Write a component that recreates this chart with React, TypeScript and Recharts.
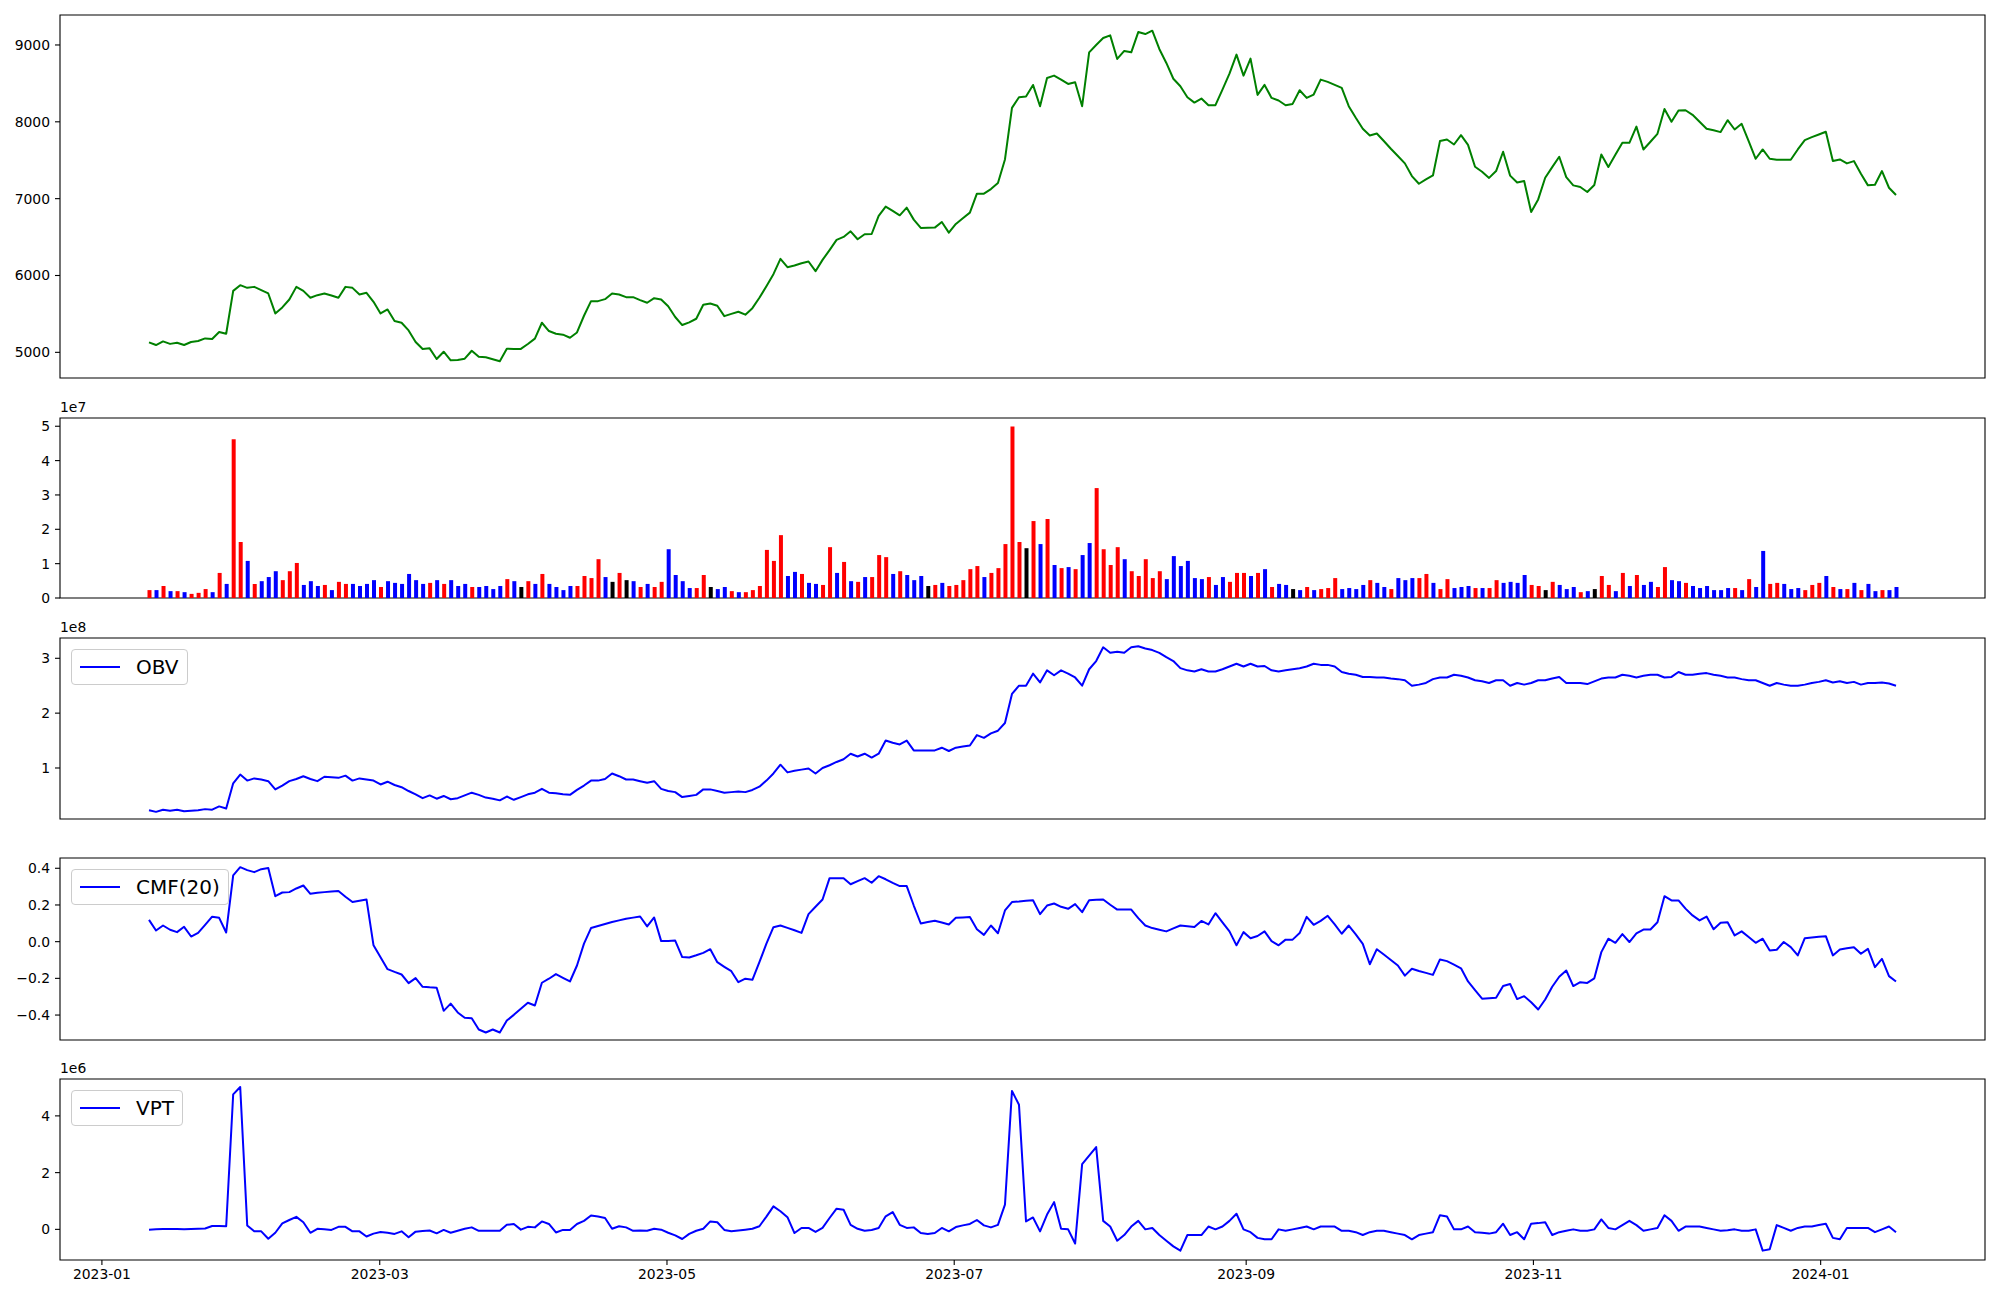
import { ComposedChart, Line, Bar, Cell, XAxis, YAxis, ReferenceArea, Legend } from 'recharts';

// sampling range of the series (points are evenly spaced between these dates)
const startDate = '2023-01-11';
const endDate = '2024-01-17';
const monthTicks = ['2023-01', '2023-03', '2023-05', '2023-07', '2023-09', '2023-11', '2024-01'];

const close = [
  5130, 5095, 5142, 5110, 5125, 5095, 5134, 5147, 5181, 5173,
  5264, 5242, 5800, 5874, 5839, 5852, 5810, 5766, 5506, 5584,
  5688, 5852, 5800, 5710, 5744, 5766, 5740, 5710, 5852, 5839,
  5753, 5775, 5658, 5506, 5558, 5407, 5385, 5285, 5135, 5043,
  5052, 4913, 5008, 4896, 4900, 4917, 5021, 4943, 4935, 4910,
  4883, 5047, 5045, 5045, 5108, 5178, 5385, 5277, 5242, 5230,
  5190, 5259, 5476, 5666, 5666, 5692, 5766, 5753, 5718, 5718,
  5680, 5645, 5705, 5688, 5600, 5460, 5355, 5390, 5437, 5619,
  5636, 5606, 5471, 5500, 5528, 5490, 5575, 5710, 5860, 6017,
  6216, 6108, 6130, 6160, 6182, 6056, 6203, 6330, 6463, 6502,
  6575, 6472, 6536, 6540, 6775, 6896, 6840, 6783, 6883, 6727,
  6619, 6620, 6623, 6697, 6558, 6671, 6745, 6818, 7065, 7065,
  7125, 7203, 7510, 8181, 8320, 8330, 8480, 8203, 8571, 8601,
  8550, 8493, 8515, 8203, 8904, 9000, 9090, 9125, 8818, 8922,
  8904, 9168, 9142, 9186, 8948, 8766, 8560, 8463, 8320, 8250,
  8303, 8216, 8216, 8420, 8627, 8874, 8601, 8822, 8350, 8480,
  8311, 8277, 8216, 8233, 8411, 8311, 8355, 8549, 8520, 8480,
  8441, 8203, 8052, 7909, 7822, 7848, 7750, 7650, 7555, 7459,
  7294, 7194, 7250, 7302, 7749, 7770, 7705, 7826, 7700, 7415,
  7350, 7270, 7359, 7610, 7300, 7210, 7229, 6826, 6990, 7272,
  7410, 7545, 7280, 7173, 7151, 7086, 7177, 7575, 7411, 7570,
  7727, 7727, 7937, 7640, 7740, 7844, 8168, 8000, 8147, 8150,
  8091, 8000, 7909, 7890, 7866, 8021, 7900, 7974, 7750, 7519,
  7640, 7519, 7506, 7506, 7506, 7640, 7761, 7800, 7835, 7870,
  7489, 7510, 7459, 7489, 7324, 7173, 7181, 7359, 7142, 7047,
];

// volume in millions of shares
const volumeM = [
  2.3, 2.3, 3.5, 2.0, 2.0, 1.7, 1.2, 1.5, 2.6, 1.7,
  7.3, 4.1, 46.2, 16.3, 10.8, 4.1, 4.9, 6.1, 7.8, 5.2,
  7.8, 10.2, 3.8, 4.9, 3.5, 3.8, 2.3, 4.7, 4.1, 4.1,
  3.5, 4.1, 5.2, 3.2, 4.9, 4.4, 4.1, 7.0, 5.2, 4.1,
  4.4, 5.2, 4.1, 5.2, 3.5, 4.1, 3.2, 3.2, 3.5, 2.6,
  3.5, 5.5, 4.9, 3.2, 4.9, 4.1, 7.0, 4.1, 3.2, 2.3,
  3.5, 3.5, 6.4, 5.8, 11.3, 6.1, 4.7, 7.3, 5.2, 4.9,
  3.2, 4.1, 3.2, 4.7, 14.2, 6.7, 4.9, 2.9, 2.9, 6.7,
  3.2, 2.6, 3.2, 2.0, 1.7, 1.7, 2.3, 3.5, 14.0, 10.8,
  18.3, 6.4, 7.6, 7.0, 4.4, 4.1, 3.8, 14.8, 7.3, 10.5,
  4.9, 4.7, 6.1, 6.1, 12.5, 11.9, 7.0, 7.8, 6.7, 5.2,
  6.4, 3.5, 3.8, 4.4, 3.5, 3.8, 5.2, 8.4, 9.3, 6.1,
  7.3, 8.7, 15.7, 49.9, 16.3, 14.5, 22.4, 15.7, 23.0, 9.6,
  8.7, 9.0, 8.4, 12.5, 16.0, 32.0, 14.2, 9.6, 14.8, 11.3,
  7.8, 6.4, 11.3, 5.8, 7.8, 5.5, 12.2, 9.3, 10.8, 5.8,
  5.5, 6.1, 3.8, 6.1, 4.7, 7.3, 7.3, 6.4, 7.3, 8.4,
  3.2, 4.1, 3.8, 2.6, 2.3, 3.2, 2.3, 2.6, 2.9, 5.8,
  2.6, 2.9, 2.6, 3.8, 5.2, 4.4, 3.2, 2.6, 5.8, 5.2,
  5.8, 5.8, 7.0, 4.4, 2.6, 5.5, 2.9, 3.2, 3.5, 2.9,
  2.9, 2.9, 5.2, 4.4, 4.7, 4.4, 6.7, 3.8, 3.5, 2.3,
  4.7, 3.8, 2.6, 3.2, 1.7, 2.0, 2.6, 6.4, 3.8, 2.0,
  7.3, 3.5, 6.7, 3.8, 4.7, 3.2, 9.0, 5.2, 4.9, 4.4,
  3.5, 2.9, 3.5, 2.3, 2.3, 2.9, 2.9, 2.3, 5.5, 3.2,
  13.7, 4.1, 4.4, 4.1, 2.6, 2.9, 2.3, 3.8, 4.4, 6.4,
  3.2, 2.6, 2.6, 4.4, 2.3, 4.1, 2.0, 2.3, 2.3, 3.2,
];

// 1 = close up, -1 = close down, 0 = unchanged
const direction = [
  1, -1, 1, -1, 1, -1, 1, 1, 1, -1,
  1, -1, 1, 1, -1, 1, -1, -1, -1, 1,
  1, 1, -1, -1, -1, 1, -1, 1, 1, -1,
  -1, -1, -1, 1, -1, -1, -1, -1, -1, -1,
  1, -1, 1, -1, -1, -1, 1, -1, -1, -1,
  -1, 1, -1, 0, 1, -1, 1, -1, -1, -1,
  -1, 1, 1, 1, 1, -1, 0, 1, 0, -1,
  1, -1, 1, 1, -1, -1, -1, -1, 1, 1,
  0, -1, -1, 1, -1, 1, 1, 1, 1, 1,
  1, -1, -1, 1, -1, -1, 1, 1, -1, 1,
  -1, 1, -1, 1, 1, 1, -1, 1, -1, -1,
  -1, 0, 1, -1, 1, 1, 1, 1, 1, -1,
  1, 1, 1, 1, 1, 0, 1, -1, 1, -1,
  1, -1, 1, -1, -1, 1, 1, 1, 1, -1,
  1, 1, 1, 1, 1, -1, -1, -1, -1, -1,
  -1, 1, -1, -1, 1, 1, 1, -1, 1, -1,
  1, -1, -1, 0, -1, 1, -1, 1, 1, 1,
  -1, -1, -1, -1, 1, -1, -1, 1, -1, -1,
  -1, 1, 1, -1, 1, 1, -1, -1, -1, 1,
  -1, 1, 1, -1, -1, -1, -1, 1, 1, 0,
  1, -1, -1, -1, 1, -1, 0, 1, 1, -1,
  1, -1, 1, -1, -1, 1, 1, -1, -1, 1,
  -1, -1, -1, -1, -1, -1, 1, -1, 1, -1,
  -1, 1, 1, -1, -1, -1, 1, 1, 1, -1,
  1, -1, 1, -1, 1, -1, -1, 1, -1, -1,
];

// on-balance volume, in units of 1e8
const obvE8 = [
  0.23, 0.20, 0.24, 0.22, 0.24, 0.21, 0.22, 0.23, 0.25, 0.24,
  0.30, 0.26, 0.72, 0.88, 0.77, 0.81, 0.79, 0.76, 0.61, 0.68,
  0.76, 0.80, 0.85, 0.80, 0.76, 0.84, 0.83, 0.82, 0.86, 0.77,
  0.81, 0.79, 0.77, 0.70, 0.75, 0.69, 0.65, 0.58, 0.52, 0.45,
  0.50, 0.44, 0.49, 0.43, 0.45, 0.50, 0.55, 0.51, 0.46, 0.44,
  0.41, 0.48, 0.42, 0.47, 0.52, 0.55, 0.62, 0.55, 0.54, 0.52,
  0.51, 0.60, 0.68, 0.77, 0.77, 0.80, 0.90, 0.85, 0.79, 0.79,
  0.76, 0.73, 0.76, 0.62, 0.58, 0.56, 0.47, 0.49, 0.51, 0.61,
  0.61, 0.58, 0.55, 0.56, 0.57, 0.56, 0.60, 0.66, 0.77, 0.90,
  1.06, 0.92, 0.95, 0.97, 0.99, 0.90, 1.00, 1.05, 1.11, 1.16,
  1.26, 1.21, 1.26, 1.19, 1.26, 1.50, 1.46, 1.43, 1.50, 1.32,
  1.32, 1.32, 1.32, 1.37, 1.31, 1.37, 1.39, 1.41, 1.60, 1.55,
  1.63, 1.68, 1.82, 2.35, 2.50, 2.50, 2.72, 2.56, 2.78, 2.69,
  2.78, 2.72, 2.65, 2.50, 2.80, 2.95, 3.20, 3.10, 3.12, 3.10,
  3.20, 3.22, 3.18, 3.15, 3.10, 3.02, 2.95, 2.82, 2.78, 2.76,
  2.80, 2.76, 2.76, 2.80, 2.85, 2.90, 2.85, 2.90, 2.85, 2.86,
  2.78, 2.76, 2.78, 2.80, 2.82, 2.85, 2.90, 2.88, 2.88, 2.85,
  2.75, 2.72, 2.70, 2.66, 2.66, 2.65, 2.65, 2.63, 2.62, 2.60,
  2.50, 2.52, 2.55, 2.62, 2.65, 2.65, 2.70, 2.68, 2.65, 2.60,
  2.58, 2.55, 2.60, 2.60, 2.50, 2.55, 2.52, 2.55, 2.60, 2.60,
  2.63, 2.66, 2.55, 2.55, 2.55, 2.53, 2.58, 2.63, 2.65, 2.65,
  2.70, 2.68, 2.65, 2.68, 2.70, 2.70, 2.65, 2.66, 2.75, 2.70,
  2.70, 2.72, 2.73, 2.70, 2.68, 2.65, 2.65, 2.62, 2.60, 2.60,
  2.55, 2.50, 2.55, 2.52, 2.50, 2.50, 2.52, 2.55, 2.57, 2.60,
  2.56, 2.58, 2.55, 2.57, 2.52, 2.55, 2.55, 2.56, 2.54, 2.50,
];

// Chaikin money flow, 20 periods
const cmf20 = [
  0.119, 0.061, 0.088, 0.065, 0.052, 0.081, 0.028, 0.048, 0.092, 0.136,
  0.130, 0.050, 0.361, 0.406, 0.390, 0.379, 0.395, 0.401, 0.248, 0.268,
  0.270, 0.290, 0.306, 0.261, 0.266, 0.270, 0.273, 0.276, 0.245, 0.216,
  0.223, 0.230, -0.020, -0.085, -0.150, -0.165, -0.179, -0.226, -0.199, -0.246,
  -0.249, -0.251, -0.377, -0.338, -0.386, -0.415, -0.417, -0.479, -0.495, -0.479,
  -0.495, -0.430, -0.399, -0.366, -0.333, -0.348, -0.224, -0.202, -0.177, -0.197,
  -0.217, -0.130, -0.011, 0.074, 0.085, 0.096, 0.107, 0.116, 0.125, 0.131,
  0.137, 0.083, 0.132, 0.003, 0.004, 0.006, -0.084, -0.086, -0.074, -0.061,
  -0.041, -0.112, -0.137, -0.161, -0.221, -0.202, -0.208, -0.112, -0.011, 0.079,
  0.088, 0.075, 0.062, 0.048, 0.150, 0.190, 0.230, 0.346, 0.346, 0.346,
  0.313, 0.330, 0.346, 0.321, 0.357, 0.340, 0.320, 0.303, 0.303, 0.197,
  0.099, 0.107, 0.114, 0.104, 0.094, 0.130, 0.132, 0.134, 0.068, 0.037,
  0.088, 0.046, 0.170, 0.216, 0.219, 0.223, 0.226, 0.150, 0.197, 0.208,
  0.190, 0.179, 0.205, 0.161, 0.226, 0.228, 0.230, 0.201, 0.175, 0.175,
  0.175, 0.128, 0.088, 0.074, 0.065, 0.056, 0.072, 0.088, 0.084, 0.080,
  0.113, 0.094, 0.155, 0.105, 0.056, -0.020, 0.052, 0.019, 0.031, 0.056,
  0.003, -0.020, 0.011, 0.011, 0.047, 0.135, 0.092, 0.113, 0.141, 0.094,
  0.043, 0.088, 0.040, -0.012, -0.123, -0.041, -0.070, -0.100, -0.130, -0.185,
  -0.148, -0.160, -0.170, -0.181, -0.097, -0.106, -0.125, -0.145, -0.217, -0.264,
  -0.311, -0.308, -0.306, -0.242, -0.231, -0.313, -0.297, -0.330, -0.370, -0.315,
  -0.246, -0.191, -0.157, -0.242, -0.221, -0.225, -0.200, -0.057, 0.016, -0.006,
  0.041, -0.002, 0.045, 0.066, 0.066, 0.106, 0.248, 0.225, 0.225, 0.180,
  0.143, 0.116, 0.137, 0.068, 0.103, 0.106, 0.034, 0.056, 0.025, -0.006,
  0.016, -0.048, -0.044, -0.002, -0.030, -0.075, 0.019, 0.023, 0.027, 0.030,
  -0.075, -0.043, -0.036, -0.030, -0.066, -0.039, -0.139, -0.094, -0.188, -0.217,
];

// volume price trend, in units of 1e6
const vptE6 = [
  -0.01, 0.00, 0.01, 0.01, 0.01, 0.00, 0.01, 0.02, 0.03, 0.12,
  0.12, 0.11, 4.76, 5.02, 0.14, -0.07, -0.07, -0.33, -0.12, 0.21,
  0.33, 0.44, 0.25, -0.12, 0.02, 0.00, -0.02, 0.09, 0.09, -0.07,
  -0.07, -0.25, -0.15, -0.09, -0.12, -0.16, -0.07, -0.28, -0.08, -0.06,
  -0.04, -0.14, -0.02, -0.12, -0.05, 0.02, 0.07, -0.05, -0.05, -0.05,
  -0.05, 0.16, 0.19, -0.01, 0.09, 0.07, 0.28, 0.19, -0.11, -0.02,
  -0.02, 0.19, 0.30, 0.49, 0.45, 0.40, 0.02, 0.11, 0.07, -0.05,
  -0.04, -0.05, 0.02, -0.01, -0.12, -0.21, -0.34, -0.16, -0.05, 0.02,
  0.28, 0.25, -0.02, -0.07, -0.04, -0.01, 0.02, 0.11, 0.45, 0.81,
  0.64, 0.43, -0.13, 0.05, 0.05, -0.09, 0.05, 0.40, 0.73, 0.69,
  0.16, 0.02, -0.05, -0.02, 0.05, 0.46, 0.61, 0.16, 0.05, 0.07,
  -0.13, -0.16, -0.13, 0.05, -0.07, 0.08, 0.14, 0.19, 0.33, 0.14,
  0.07, 0.16, 0.87, 4.88, 4.39, 0.28, 0.42, -0.07, 0.52, 0.96,
  0.02, 0.00, -0.50, 2.30, 2.60, 2.90, 0.30, 0.10, -0.40, -0.20,
  0.10, 0.30, 0.00, 0.05, -0.20, -0.40, -0.60, -0.75, -0.20, -0.20,
  -0.20, 0.10, 0.00, 0.10, 0.30, 0.55, 0.00, -0.10, -0.30, -0.35,
  -0.35, 0.00, -0.05, 0.00, 0.05, 0.10, 0.00, 0.10, 0.10, 0.10,
  -0.05, -0.05, -0.10, -0.20, -0.10, -0.05, -0.05, -0.10, -0.15, -0.20,
  -0.35, -0.20, -0.15, -0.10, 0.50, 0.45, 0.00, 0.00, 0.10, -0.10,
  -0.12, -0.15, -0.10, 0.20, -0.20, -0.10, -0.35, 0.20, 0.22, 0.25,
  -0.20, -0.10, -0.05, 0.00, -0.05, -0.05, 0.00, 0.35, 0.05, 0.00,
  0.15, 0.30, 0.15, -0.05, 0.00, 0.05, 0.50, 0.30, -0.05, 0.10,
  0.10, 0.10, 0.05, 0.00, -0.05, -0.03, 0.00, -0.05, -0.05, 0.00,
  -0.75, -0.70, 0.15, 0.05, -0.05, 0.05, 0.10, 0.10, 0.15, 0.20,
  -0.30, -0.35, 0.05, 0.05, 0.05, 0.05, -0.10, 0.00, 0.10, -0.10,
];

const DAY_MS = 86400000;
const base = Date.UTC(2023, 0, 1);
const toDay = (s: string) => (Date.parse(s) - base) / DAY_MS;
const d0 = toDay(startDate);
const step = (toDay(endDate) - d0) / (close.length - 1);

const rows = close.map((c, i) => ({
  day: d0 + i * step,
  close: c,
  volume: volumeM[i],
  dir: direction[i],
  obv: obvE8[i],
  cmf: cmf20[i],
  vpt: vptE6[i],
}));

const tickDays = monthTicks.map((m) => toDay(m + '-01'));
const xDomain: [number, number] = [-8.9, 399.9];

const FONT = 'DejaVu Sans';
const tickStyle = { fill: '#000', fontSize: 13.9, fontFamily: FONT };
const minus = (v: number, digits: number) => (v < 0 ? '\u2212' : '') + Math.abs(v).toFixed(digits);

const LegendBox = ({ label }: { label: string }) => (
  <div
    style={{
      display: 'inline-flex',
      alignItems: 'center',
      boxSizing: 'border-box',
      height: 36,
      padding: '0 8px',
      border: '1px solid #cccccc',
      borderRadius: 4,
      background: 'rgba(255,255,255,0.8)',
      fontFamily: FONT,
      fontSize: 20,
      color: '#000',
      lineHeight: 1,
      whiteSpace: 'nowrap',
    }}
  >
    <span style={{ display: 'inline-block', width: 40, height: 2, background: '#0000ff', marginRight: 16 }} />
    <span>{label}</span>
  </div>
);

interface PanelProps {
  top: number;
  height: number;
  yDomain: [number, number];
  yTicks: number[];
  fmt: (v: number) => string;
  showX?: boolean;
  offsetLabel?: string;
  legend?: string;
  children: React.ReactNode;
}

const Panel = ({ top, height, yDomain, yTicks, fmt, showX = false, offsetLabel, legend, children }: PanelProps) => {
  const xAxisH = showX ? 30 : 0;
  const bottomPad = showX ? 5 : 12;
  return (
    <div style={{ position: 'absolute', left: 0, top: top - 10 }}>
      {offsetLabel && (
        <div style={{ position: 'absolute', left: 60, top: -9, fontFamily: FONT, fontSize: 13.9, lineHeight: '16px', color: '#000' }}>
          {offsetLabel}
        </div>
      )}
      <ComposedChart
        width={2000}
        height={height + 10 + bottomPad + xAxisH}
        data={rows}
        margin={{ top: 10, right: 15, bottom: bottomPad, left: 0 }}
      >
        <XAxis
          dataKey="day"
          type="number"
          scale="linear"
          domain={xDomain}
          allowDataOverflow
          ticks={tickDays}
          interval={0}
          hide={!showX}
          height={xAxisH}
          axisLine={false}
          tickSize={5}
          tickMargin={4}
          tickLine={{ stroke: '#000', strokeWidth: 1.1 }}
          tick={tickStyle}
          tickFormatter={(v: number) => monthTicks[tickDays.indexOf(v)] ?? ''}
        />
        <YAxis
          type="number"
          domain={yDomain}
          allowDataOverflow
          ticks={yTicks}
          interval={0}
          width={60}
          axisLine={false}
          tickSize={5}
          tickMargin={5}
          tickLine={{ stroke: '#000', strokeWidth: 1.1 }}
          tick={tickStyle}
          tickFormatter={fmt}
        />
        <ReferenceArea
          x1={xDomain[0]}
          x2={xDomain[1]}
          y1={yDomain[0]}
          y2={yDomain[1]}
          fill="none"
          fillOpacity={0}
          stroke="#000"
          strokeWidth={1.1}
          ifOverflow="visible"
        />
        {children}
        {legend && (
          <Legend
            layout="horizontal"
            verticalAlign="middle"
            align="center"
            wrapperStyle={{ left: 71, top: 21, width: 'auto' }}
            content={() => <LegendBox label={legend} />}
          />
        )}
      </ComposedChart>
    </div>
  );
};

const barColor = (d: number) => (d > 0 ? '#ff0000' : d < 0 ? '#0000ff' : '#000000');

export default function App() {
  return (
    <div style={{ position: 'absolute', left: 0, top: 0, width: 2000, height: 1300, background: '#fff', fontFamily: FONT }}>
      <Panel top={15} height={363} yDomain={[4666, 9390]} yTicks={[5000, 6000, 7000, 8000, 9000]} fmt={(v) => String(v)}>
        <Line type="linear" dataKey="close" stroke="#008000" strokeWidth={2} strokeLinejoin="round" dot={false} isAnimationActive={false} />
      </Panel>

      <Panel top={418} height={180} yDomain={[0, 52.4]} yTicks={[0, 10, 20, 30, 40, 50]} fmt={(v) => String(v / 10)} offsetLabel="1e7">
        <Bar dataKey="volume" barSize={4} isAnimationActive={false}>
          {rows.map((r, i) => (
            <Cell key={i} fill={barColor(r.dir)} />
          ))}
        </Bar>
      </Panel>

      <Panel top={638} height={181} yDomain={[0.07, 3.37]} yTicks={[1, 2, 3]} fmt={(v) => String(v)} offsetLabel="1e8" legend="OBV">
        <Line type="linear" dataKey="obv" stroke="#0000ff" strokeWidth={2} strokeLinejoin="round" dot={false} isAnimationActive={false} />
      </Panel>

      <Panel top={858} height={182} yDomain={[-0.536, 0.456]} yTicks={[-0.4, -0.2, 0, 0.2, 0.4]} fmt={(v) => minus(v, 1)} legend="CMF(20)">
        <Line type="linear" dataKey="cmf" stroke="#0000ff" strokeWidth={2} strokeLinejoin="round" dot={false} isAnimationActive={false} />
      </Panel>

      <Panel top={1079} height={181} yDomain={[-1.08, 5.3]} yTicks={[0, 2, 4]} fmt={(v) => String(v)} offsetLabel="1e6" legend="VPT" showX>
        <Line type="linear" dataKey="vpt" stroke="#0000ff" strokeWidth={2} strokeLinejoin="round" dot={false} isAnimationActive={false} />
      </Panel>
    </div>
  );
}
